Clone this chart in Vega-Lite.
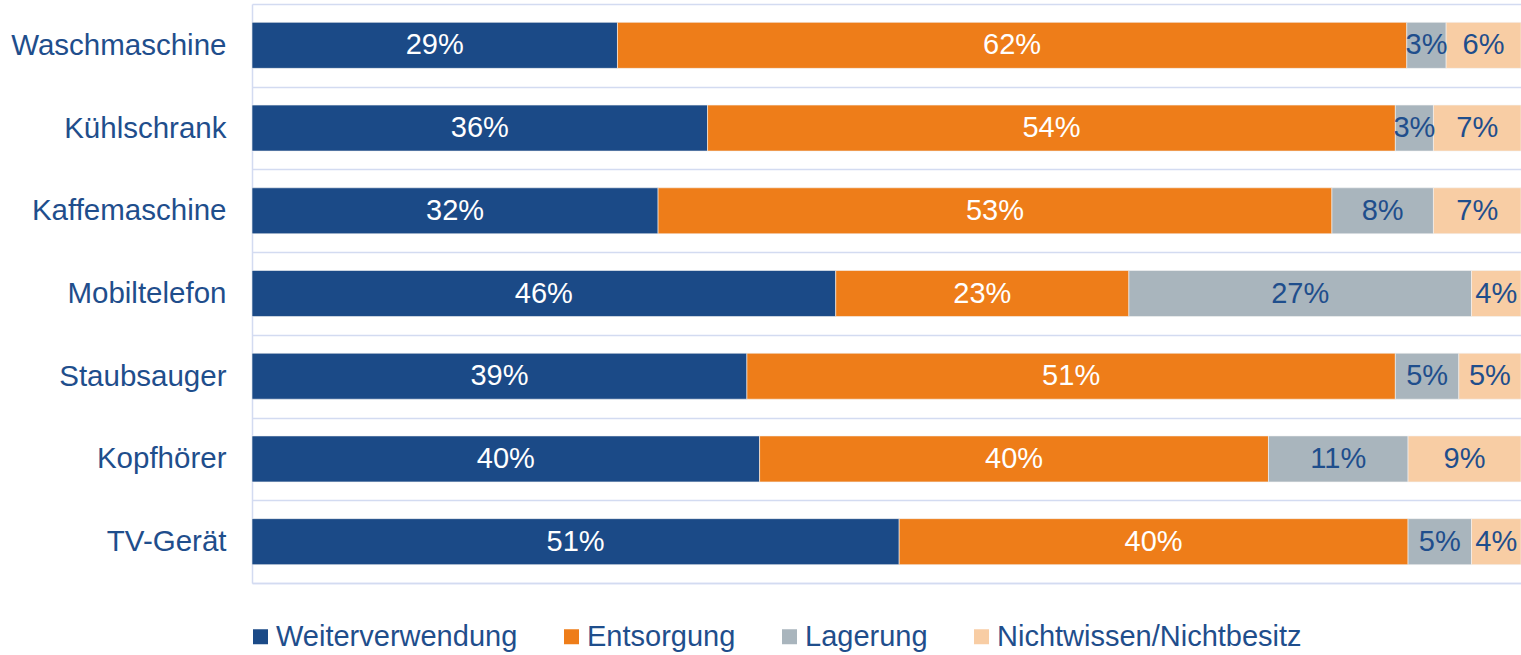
{
  "$schema": "https://vega.github.io/schema/vega-lite/v6.json",
  "width": 1269,
  "height": 579,
  "autosize": {"type": "none"},
  "padding": {"left": 252, "top": 4, "right": 0, "bottom": 72},
  "background": "white",
  "config": {"view": {"stroke": null}, "font": "Liberation Sans"},
  "data": {"values": [
    {"geraet": "Waschmaschine", "kategorie": "Weiterverwendung", "ord": 1, "wert": 28.8, "label": "29%"},
    {"geraet": "Waschmaschine", "kategorie": "Entsorgung", "ord": 2, "wert": 62.2, "label": "62%"},
    {"geraet": "Waschmaschine", "kategorie": "Lagerung", "ord": 3, "wert": 3.1, "label": "3%"},
    {"geraet": "Waschmaschine", "kategorie": "Nichtwissen/Nichtbesitz", "ord": 4, "wert": 5.9, "label": "6%"},
    {"geraet": "Kühlschrank", "kategorie": "Weiterverwendung", "ord": 1, "wert": 35.9, "label": "36%"},
    {"geraet": "Kühlschrank", "kategorie": "Entsorgung", "ord": 2, "wert": 54.2, "label": "54%"},
    {"geraet": "Kühlschrank", "kategorie": "Lagerung", "ord": 3, "wert": 3.0, "label": "3%"},
    {"geraet": "Kühlschrank", "kategorie": "Nichtwissen/Nichtbesitz", "ord": 4, "wert": 6.9, "label": "7%"},
    {"geraet": "Kaffemaschine", "kategorie": "Weiterverwendung", "ord": 1, "wert": 32.0, "label": "32%"},
    {"geraet": "Kaffemaschine", "kategorie": "Entsorgung", "ord": 2, "wert": 53.1, "label": "53%"},
    {"geraet": "Kaffemaschine", "kategorie": "Lagerung", "ord": 3, "wert": 8.0, "label": "8%"},
    {"geraet": "Kaffemaschine", "kategorie": "Nichtwissen/Nichtbesitz", "ord": 4, "wert": 6.9, "label": "7%"},
    {"geraet": "Mobiltelefon", "kategorie": "Weiterverwendung", "ord": 1, "wert": 46.0, "label": "46%"},
    {"geraet": "Mobiltelefon", "kategorie": "Entsorgung", "ord": 2, "wert": 23.1, "label": "23%"},
    {"geraet": "Mobiltelefon", "kategorie": "Lagerung", "ord": 3, "wert": 27.0, "label": "27%"},
    {"geraet": "Mobiltelefon", "kategorie": "Nichtwissen/Nichtbesitz", "ord": 4, "wert": 3.9, "label": "4%"},
    {"geraet": "Staubsauger", "kategorie": "Weiterverwendung", "ord": 1, "wert": 39.0, "label": "39%"},
    {"geraet": "Staubsauger", "kategorie": "Entsorgung", "ord": 2, "wert": 51.1, "label": "51%"},
    {"geraet": "Staubsauger", "kategorie": "Lagerung", "ord": 3, "wert": 5.0, "label": "5%"},
    {"geraet": "Staubsauger", "kategorie": "Nichtwissen/Nichtbesitz", "ord": 4, "wert": 4.9, "label": "5%"},
    {"geraet": "Kopfhörer", "kategorie": "Weiterverwendung", "ord": 1, "wert": 40.0, "label": "40%"},
    {"geraet": "Kopfhörer", "kategorie": "Entsorgung", "ord": 2, "wert": 40.1, "label": "40%"},
    {"geraet": "Kopfhörer", "kategorie": "Lagerung", "ord": 3, "wert": 11.0, "label": "11%"},
    {"geraet": "Kopfhörer", "kategorie": "Nichtwissen/Nichtbesitz", "ord": 4, "wert": 8.9, "label": "9%"},
    {"geraet": "TV-Gerät", "kategorie": "Weiterverwendung", "ord": 1, "wert": 51.0, "label": "51%"},
    {"geraet": "TV-Gerät", "kategorie": "Entsorgung", "ord": 2, "wert": 40.1, "label": "40%"},
    {"geraet": "TV-Gerät", "kategorie": "Lagerung", "ord": 3, "wert": 5.0, "label": "5%"},
    {"geraet": "TV-Gerät", "kategorie": "Nichtwissen/Nichtbesitz", "ord": 4, "wert": 3.9, "label": "4%"}
  ]},
  "transform": [
    {"stack": "wert", "groupby": ["geraet"], "sort": [{"field": "ord"}], "as": ["x0", "x1"]},
    {"calculate": "(datum.x0 + datum.x1) / 2", "as": "xm"}
  ],
  "encoding": {
    "y": {
      "field": "geraet", "type": "nominal",
      "sort": ["Waschmaschine", "Kühlschrank", "Kaffemaschine", "Mobiltelefon", "Staubsauger", "Kopfhörer", "TV-Gerät"],
      "scale": {"paddingInner": 0, "paddingOuter": 0},
      "axis": {
        "title": null, "ticks": false, "grid": true, "tickBand": "extent",
        "gridColor": "#d3dbf1", "gridWidth": 1.5,
        "domainColor": "#d3dbf1", "domainWidth": 1.5,
        "labelFontSize": 29.5, "labelColor": "#1f4e8c", "labelPadding": 26, "labelLimit": 0
      }
    }
  },
  "layer": [
    {
      "mark": {"type": "bar", "height": {"band": 0.556}, "stroke": "#f4f4f4", "strokeWidth": 0.6},
      "encoding": {
        "x": {"field": "x0", "type": "quantitative", "scale": {"domain": [0, 100], "nice": false},
              "axis": {"title": null, "labels": false, "ticks": false, "grid": false, "domainColor": "#d3dbf1", "domainWidth": 1.5}},
        "x2": {"field": "x1"},
        "color": {
          "field": "kategorie", "type": "nominal",
          "scale": {"domain": ["Weiterverwendung", "Entsorgung", "Lagerung", "Nichtwissen/Nichtbesitz"],
                    "range": ["#1b4a87", "#ee7d19", "#a9b5bd", "#f8cda4"]},
          "legend": {
            "orient": "none", "legendX": -6, "legendY": 618, "direction": "horizontal", "columns": 4,
            "title": null, "symbolType": "square", "symbolSize": 225, "symbolStrokeWidth": 0,
            "labelFontSize": 29, "labelColor": "#1f4e8c", "labelOffset": 1, "columnPadding": 39, "labelLimit": 0
          }
        }
      }
    },
    {
      "mark": {"type": "text", "fontSize": 29, "baseline": "middle", "align": "center"},
      "encoding": {
        "x": {"field": "xm", "type": "quantitative"},
        "text": {"field": "label"},
        "color": {"condition": {"test": "datum.ord <= 2", "value": "white"}, "value": "#1f4e8c"}
      }
    }
  ]
}
